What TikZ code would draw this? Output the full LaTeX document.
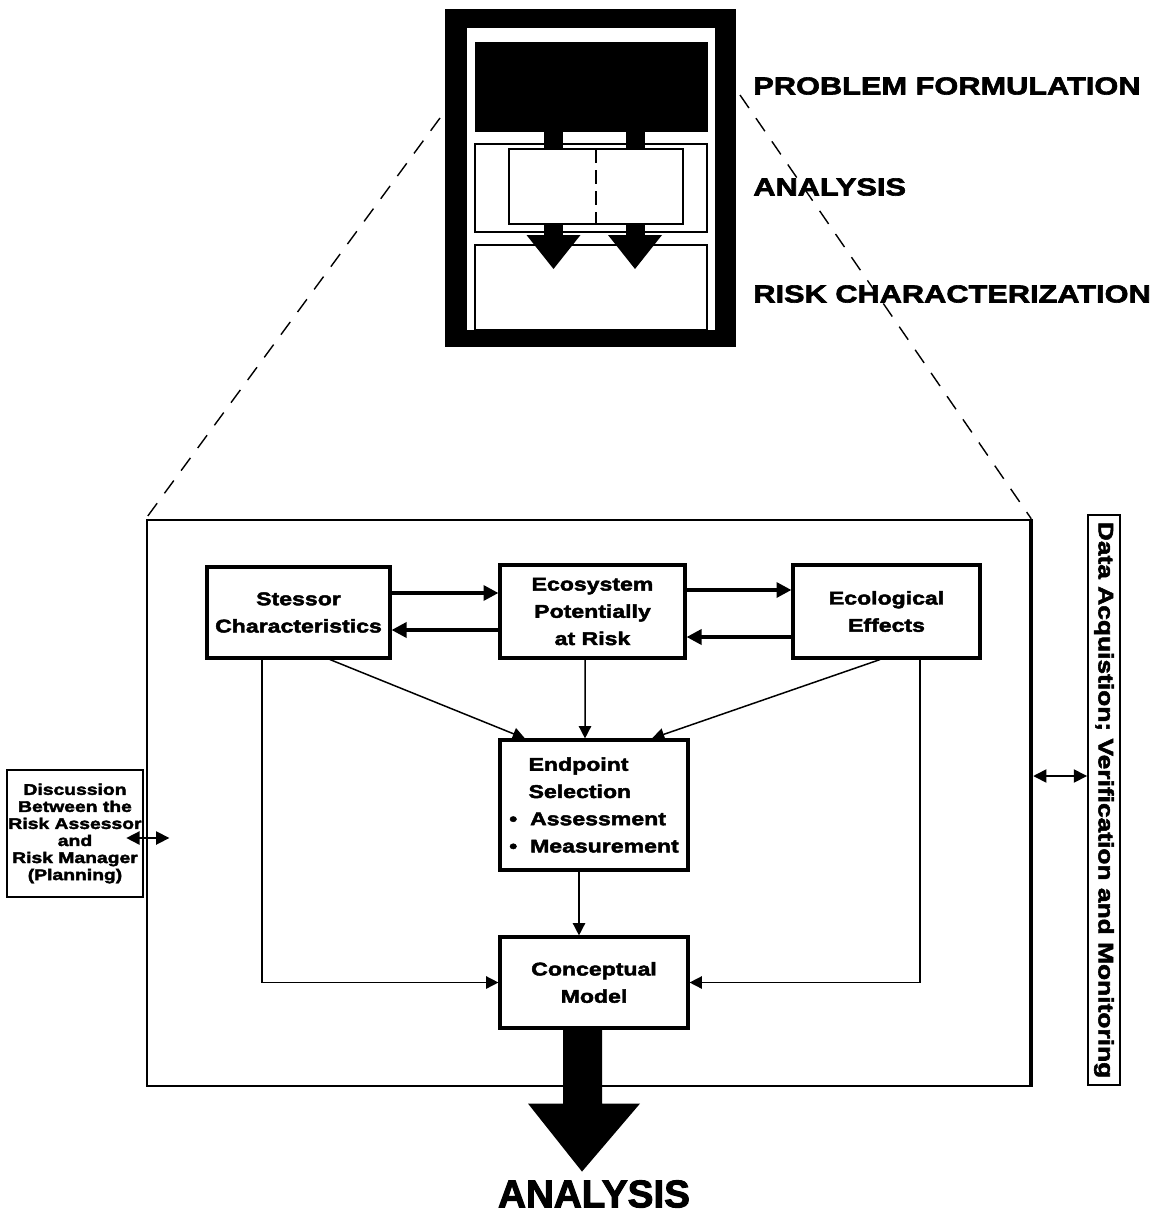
\documentclass[tikz,border=0pt]{standalone}
\usepackage{fontspec}
\setmainfont{Liberation Sans}
\newfontfamily\heavy{Liberation Sans Bold}[FakeStretch=1.25,FakeBold=2.5]
\newfontfamily\heavyplain{Liberation Sans Bold}[FakeBold=2.5]
\usetikzlibrary{positioning, arrows.meta, calc}
\tikzset{
        my-box/.style={
            draw, rectangle, line width=1.8pt, inner sep=2pt, align=center,
            font={\heavy\fontsize{10.5}{15.5}\selectfont}
        },
        my-stage/.style={
            anchor=west, inner sep=0pt, font={\heavy\fontsize{14}{16}\selectfont}
        },
        my-link/.style={line width=0.85pt, -{Triangle[length=7pt,width=7pt]}},
        my-feedback/.style={line width=2pt, -{Triangle[length=8.5pt,width=8.5pt]}},
        my-both/.style={line width=0.9pt, {Triangle[length=7.5pt,width=7.5pt]}-{Triangle[length=7.5pt,width=7.5pt]}},
        my-zoom/.style={line width=0.8pt, dash pattern=on 9pt off 7pt},
}

\begin{document}
\begin{tikzpicture}[x=0.02cm, y=-0.02cm]
        \useasboundingbox (0,0) rectangle (1159,1217);

        %DRAW THE SMALL PHASE ICON
        \fill (445,9) rectangle (736,347);
        \fill [white] (467,28) rectangle (715,330);
        \fill (475,42) rectangle (708,132);
        \draw [line width=1.2pt] (475,144) rectangle (707,232);
        \draw [line width=1.2pt] (509,149) rectangle (683,224);
        \draw [line width=1.2pt, dash pattern=on 8pt off 4pt] (596,149) -- (596,224);
        \draw [line width=1.2pt] (475,245) rectangle (707,330);
        \foreach \sx in {553.5, 635} {
            \fill (\sx-9.5,132) rectangle (\sx+9.5,149);
            \fill (\sx-9.5,224) rectangle (\sx+9.5,236);
            \fill (\sx-27,235) -- (\sx+27,235) -- (\sx,269) -- cycle;
        }
        \coordinate (ZOOM-L) at (440,118);
        \coordinate (ZOOM-R) at (740,95);

        \node [my-stage]  (PF-LABEL) at (753,86)   {PROBLEM FORMULATION};
        \node [my-stage]  (AN-LABEL) at (753,187)  {ANALYSIS};
        \node [my-stage]  (RC-LABEL) at (753,294)  {RISK CHARACTERIZATION};

        %DRAW NODES (relative to the Endpoint box)
        \node [draw, line width=1.5pt, minimum width=17.66cm, minimum height=11.32cm, inner sep=0pt]
                                (FRAME)    at (588.5,803)  {};
        \node [my-box, align=left, minimum width=3.76cm, minimum height=2.6cm]
                                (ENDPOINT) at (594,805)
                                {\hspace{1.05em}Endpoint\\\hspace{1.05em}Selection\\\textbullet\ \ Assessment\\\textbullet\ \ Measurement};
        \node [my-box, minimum width=3.7cm, minimum height=1.86cm]
                                (ECOSYS)   at ($(ENDPOINT)+(-1.5,-193.5)$)  {Ecosystem\\Potentially\\at Risk};
        \node [my-box, minimum width=3.66cm, minimum height=1.82cm]
                                (STRESSOR) at ($(ECOSYS)+(-294,1)$)         {Stessor\\Characteristics};
        \node [my-box, minimum width=3.74cm, minimum height=1.86cm]
                                (EFFECTS)  at ($(ECOSYS)+(294,0)$)          {Ecological\\Effects};
        \node [my-box, minimum width=3.76cm, minimum height=1.82cm]
                                (MODEL)    at ($(ENDPOINT)+(0,177.5)$)      {Conceptual\\Model};
        \node [draw, line width=1.1pt, minimum width=2.6cm, minimum height=2.54cm, inner sep=1pt, align=center,
               font={\heavy\fontsize{8.8}{9.7}\selectfont}]
                                (PLAN)     at (75,833.5)
                                {Discussion\\Between the\\Risk Assessor\\and\\Risk Manager\\(Planning)};
        \node [draw, line width=1.1pt, rotate=-90, minimum width=11.4cm, minimum height=0.64cm, inner sep=0pt,
               font={\heavy\fontsize{12}{14}\selectfont}]
                                (DATA)     at (1104,800)  {Data Acquistion; Verification and Monitoring};
        \node [font={\heavyplain\fontsize{22}{24}\selectfont}]
                                (ANALYSIS) at (594,1194)  {ANALYSIS};

        % ZOOM LINES AND FRAME EDGE
        \draw [my-zoom] (ZOOM-L) -- (FRAME.north west);
        \draw [my-zoom] (ZOOM-R) -- (FRAME.north east);
        \draw [line width=2.3pt] (FRAME.north east) -- (FRAME.south east);

        % CONNECT TOP ROW
        \draw [my-feedback] ($(STRESSOR.east)+(0,-19.5)$) -- ($(ECOSYS.west)+(0,-18.5)$);
        \draw [my-feedback] ($(ECOSYS.west)+(0,18.5)$)    -- ($(STRESSOR.east)+(0,17.5)$);
        \draw [my-feedback] ($(ECOSYS.east)+(0,-21.5)$)   -- ($(EFFECTS.west)+(0,-21.5)$);
        \draw [my-feedback] ($(EFFECTS.west)+(0,25.5)$)   -- ($(ECOSYS.east)+(0,25.5)$);

        % CONNECT TO ENDPOINT AND MODEL
        \draw [my-link] ($(STRESSOR.south)+(31.5,0)$) -- ($(ENDPOINT.north)+(-69,0)$);
        \draw [my-link] ($(ECOSYS.south)+(-7.5,0)$)   -- ($(ENDPOINT.north)+(-9,0)$);
        \draw [my-link] ($(EFFECTS.south)+(-6.5,0)$)  -- ($(ENDPOINT.north)+(58,0)$);
        \draw [my-link] ($(STRESSOR.south)+(-36.5,0)$) |- (MODEL.west);
        \draw [my-link] ($(EFFECTS.south)+(33.5,0)$)   |- (MODEL.east);
        \draw [my-link] ($(ENDPOINT.south)+(-15,0)$)   -- ($(MODEL.north)+(-15,0)$);

        % CONNECT SIDE BOXES
        \draw [my-both] ($(PLAN.east)+(-18,4.5)$) -- ($(PLAN.east)+(25,4.5)$);
        \draw [my-both] ($(FRAME.east)+(2,-27)$)  -- ($(DATA.south)+(0,-24)$);

        % OUTPUT ARROW
        \fill ($(MODEL.south)+(-31,0)$) -- ++(39,0) -- ++(0,74) -- ++(38,0) -- ++(-58,68) -- ++(-54,-68) -- ++(35,0) -- cycle;

\end{tikzpicture}
\end{document}
